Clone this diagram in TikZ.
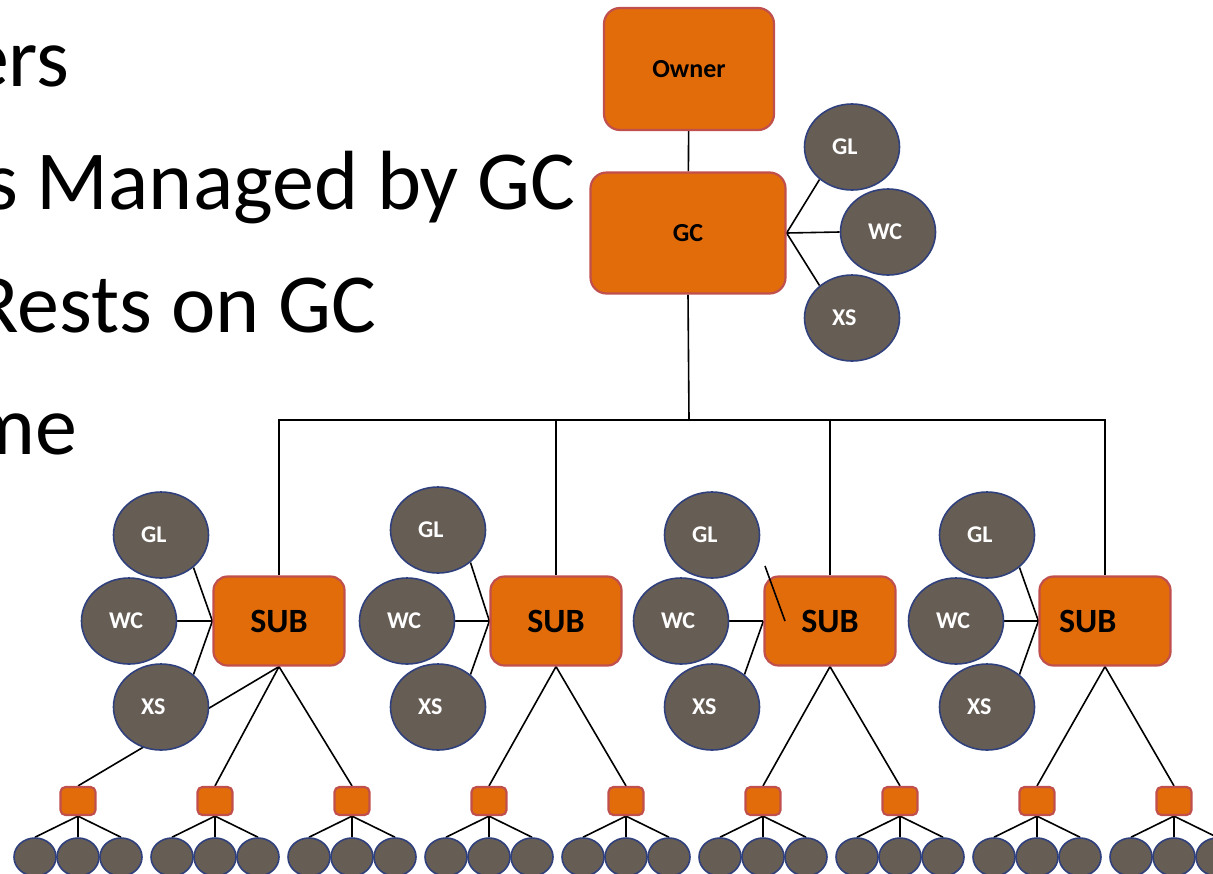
\documentclass[tikz,border=0pt]{standalone}
\usepackage{fontspec}
\setmainfont{Carlito}
\usetikzlibrary{shapes.geometric,backgrounds}
\definecolor{boxorange}{RGB}{227,108,10}
\definecolor{boxedge}{RGB}{192,80,77}
\definecolor{roundgray}{RGB}{102,93,85}
\definecolor{roundedge}{RGB}{47,64,125}

\begin{document}
\begin{tikzpicture}[x=0.5pt,y=-0.5pt,
    topbox/.style={draw=boxedge,line width=1.1pt,fill=boxorange,rounded corners=8pt,
        font=\fontsize{13}{15}\selectfont\bfseries},
    subbox/.style={draw=boxedge,line width=1.1pt,fill=boxorange,rounded corners=7pt,
        minimum width=65.5pt,minimum height=44.5pt,font=\fontsize{17}{20}\selectfont\bfseries},
    leafbox/.style={draw=boxedge,line width=1.1pt,fill=boxorange,rounded corners=2.5pt,
        minimum width=17.5pt,minimum height=14pt,inner sep=0pt},
    role/.style={ellipse,draw=roundedge,line width=0.8pt,fill=roundgray,text=white,
        minimum width=47.5pt,minimum height=43pt,inner sep=0pt,text width=20pt,align=left,
        font=\fontsize{12}{14}\selectfont\bfseries},
    worker/.style={ellipse,draw=roundedge,line width=0.8pt,fill=roundgray,
        minimum width=21pt,minimum height=19pt,inner sep=0pt},
    link/.style={line width=0.8pt},
    bullet/.style={anchor=base east,inner sep=0pt,font=\fontsize{42}{50}\selectfont}]
    \useasboundingbox (0,0) rectangle (1213,873);
    \clip (0,0) rectangle (1213,873);

    %Text
    \node[bullet] at (70,86)   (t1) {ers};
    \node[bullet] at (576,209) (t2) {s Managed by GC};
    \node[bullet] at (377,332) (t3) {Rests on GC};
    \node[bullet] at (78,454)  (t4) {me};

    %Nodes
    \node[topbox,minimum width=85pt,minimum height=61pt] at (689,69) (owner) {Owner};
    \node[topbox,minimum width=97.5pt,minimum height=60.5pt] at (688,233) (gc) {GC};
    \node[role] at (852,147) (glgc) {GL};
    \node[role] at (888,232) (wcgc) {WC};
    \node[role] at (852,318) (xsgc) {XS};
    \coordinate (bar) at (689,420);

    \node[subbox] at (279,621)  (sub1) {SUB};
    \node[subbox] at (556,621)  (sub2) {SUB};
    \node[subbox] at (830,621)  (sub3) {SUB};
    \node[subbox,text width=46pt,align=left] at (1105,621) (sub4) {SUB};

    \node[role] at (161,535) (gl1) {GL};
    \node[role] at (129,621) (wc1) {WC};
    \node[role] at (161,707) (xs1) {XS};
    \node[role] at (438,530) (gl2) {GL};
    \node[role] at (407,621) (wc2) {WC};
    \node[role] at (438,707) (xs2) {XS};
    \node[role] at (712,535) (gl3) {GL};
    \node[role] at (681,621) (wc3) {WC};
    \node[role] at (712,707) (xs3) {XS};
    \node[role] at (987,535) (gl4) {GL};
    \node[role] at (956,621) (wc4) {WC};
    \node[role] at (987,707) (xs4) {XS};

    \node[leafbox] at (78,801)   (leaf1) {};
    \node[leafbox] at (215,801)  (leaf2) {};
    \node[leafbox] at (352,801)  (leaf3) {};
    \node[leafbox] at (489,801)  (leaf4) {};
    \node[leafbox] at (626,801)  (leaf5) {};
    \node[leafbox] at (763,801)  (leaf6) {};
    \node[leafbox] at (900,801)  (leaf7) {};
    \node[leafbox] at (1037,801) (leaf8) {};
    \node[leafbox] at (1174,801) (leaf9) {};

    \node[worker] at (35,857)   (w1a) {};
    \node[worker] at (78,857)   (w1b) {};
    \node[worker] at (121,857)  (w1c) {};
    \node[worker] at (172,857)  (w2a) {};
    \node[worker] at (215,857)  (w2b) {};
    \node[worker] at (258,857)  (w2c) {};
    \node[worker] at (309,857)  (w3a) {};
    \node[worker] at (352,857)  (w3b) {};
    \node[worker] at (395,857)  (w3c) {};
    \node[worker] at (446,857)  (w4a) {};
    \node[worker] at (489,857)  (w4b) {};
    \node[worker] at (532,857)  (w4c) {};
    \node[worker] at (583,857)  (w5a) {};
    \node[worker] at (626,857)  (w5b) {};
    \node[worker] at (669,857)  (w5c) {};
    \node[worker] at (720,857)  (w6a) {};
    \node[worker] at (763,857)  (w6b) {};
    \node[worker] at (806,857)  (w6c) {};
    \node[worker] at (857,857)  (w7a) {};
    \node[worker] at (900,857)  (w7b) {};
    \node[worker] at (943,857)  (w7c) {};
    \node[worker] at (994,857)  (w8a) {};
    \node[worker] at (1037,857) (w8b) {};
    \node[worker] at (1080,857) (w8c) {};
    \node[worker] at (1131,857) (w9a) {};
    \node[worker] at (1174,857) (w9b) {};
    \node[worker] at (1217,857) (w9c) {};

    %Lines
    \begin{pgfonlayer}{background}
    \draw[link] (owner)     -- (gc);
    \draw[link] (gc.east)   -- (glgc.-135);
    \draw[link] (gc.east)   -- (wcgc.west);
    \draw[link] (gc.east)   -- (xsgc.135);
    \draw[link] (gc.south)  -- (bar);
    \draw[link] (bar)       -| (sub1.north);
    \draw[link] (bar)       -| (sub2.north);
    \draw[link] (bar)       -| (sub3.north);
    \draw[link] (bar)       -| (sub4.north);

    \draw[link] (sub1.west) -- (gl1.-45);
    \draw[link] (sub1.west) -- (wc1.east);
    \draw[link] (sub1.west) -- (xs1.45);
    \draw[link] (sub2.west) -- (gl2.-45);
    \draw[link] (sub2.west) -- (wc2.east);
    \draw[link] (sub2.west) -- (xs2.45);
    \draw[link] (sub3.west) -- (wc3.east);
    \draw[link] (sub3.west) -- (xs3.45);
    \draw[link] (sub4.west) -- (gl4.-45);
    \draw[link] (sub4.west) -- (wc4.east);
    \draw[link] (sub4.west) -- (xs4.45);

    \draw[link] (sub1.south) -- (leaf1.north);
    \draw[link] (sub1.south) -- (leaf2.north);
    \draw[link] (sub1.south) -- (leaf3.north);
    \draw[link] (sub2.south) -- (leaf4.north);
    \draw[link] (sub2.south) -- (leaf5.north);
    \draw[link] (sub3.south) -- (leaf6.north);
    \draw[link] (sub3.south) -- (leaf7.north);
    \draw[link] (sub4.south) -- (leaf8.north);
    \draw[link] (sub4.south) -- (leaf9.north);

    \draw[link] (leaf1.south) -- (w1a.north);
    \draw[link] (leaf1.south) -- (w1b.north);
    \draw[link] (leaf1.south) -- (w1c.north);
    \draw[link] (leaf2.south) -- (w2a.north);
    \draw[link] (leaf2.south) -- (w2b.north);
    \draw[link] (leaf2.south) -- (w2c.north);
    \draw[link] (leaf3.south) -- (w3a.north);
    \draw[link] (leaf3.south) -- (w3b.north);
    \draw[link] (leaf3.south) -- (w3c.north);
    \draw[link] (leaf4.south) -- (w4a.north);
    \draw[link] (leaf4.south) -- (w4b.north);
    \draw[link] (leaf4.south) -- (w4c.north);
    \draw[link] (leaf5.south) -- (w5a.north);
    \draw[link] (leaf5.south) -- (w5b.north);
    \draw[link] (leaf5.south) -- (w5c.north);
    \draw[link] (leaf6.south) -- (w6a.north);
    \draw[link] (leaf6.south) -- (w6b.north);
    \draw[link] (leaf6.south) -- (w6c.north);
    \draw[link] (leaf7.south) -- (w7a.north);
    \draw[link] (leaf7.south) -- (w7b.north);
    \draw[link] (leaf7.south) -- (w7c.north);
    \draw[link] (leaf8.south) -- (w8a.north);
    \draw[link] (leaf8.south) -- (w8b.north);
    \draw[link] (leaf8.south) -- (w8c.north);
    \draw[link] (leaf9.south) -- (w9a.north);
    \draw[link] (leaf9.south) -- (w9b.north);
    \draw[link] (leaf9.south) -- (w9c.north);
    \end{pgfonlayer}

    %Stray line over sub3
    \coordinate (stray1) at (765,566);
    \coordinate (stray2) at (785,621);
    \draw[link] (stray1) -- (stray2);
\end{tikzpicture}
\end{document}
